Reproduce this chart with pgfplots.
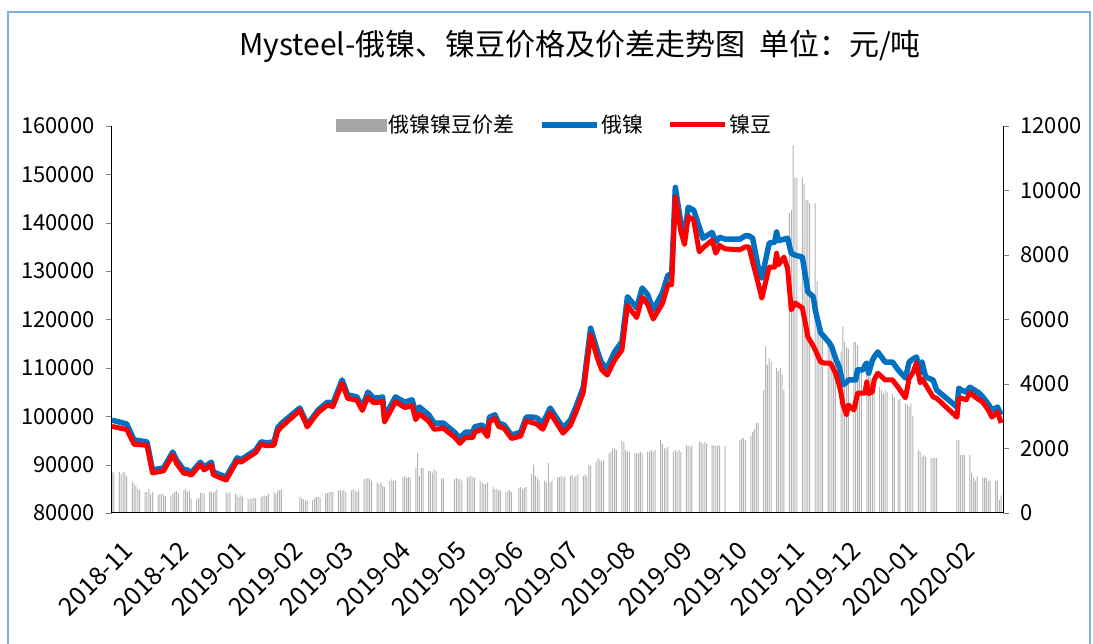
\documentclass[border=0pt]{standalone}
\usepackage{fontspec}
\setmainfont{Noto Sans CJK SC}
\usepackage{pgfplots}
\usepackage{pgfplotstable}
\pgfplotsset{compat=1.18}
\definecolor{nblue}{HTML}{0070C0}
\definecolor{nred}{HTML}{FF0000}
\definecolor{barg}{HTML}{B4B4B4}
\definecolor{legg}{HTML}{A6A6A6}
\definecolor{frameblue}{HTML}{7EB0E0}

% x = days since 2018-11-01; spread in yuan/t (right axis)
\pgfplotstableread{
d s
0 1270
1 1250
4 1270
5 1200
6 1270
7 1250
8 1150
11 960
12 900
13 850
14 750
15 710
18 650
19 650
20 750
21 600
22 650
25 560
26 580
27 600
28 560
29 520
32 540
33 600
34 650
35 680
36 620
39 700
40 750
41 650
42 700
43 450
46 420
47 450
48 620
49 620
50 600
53 650
54 650
55 620
56 680
57 750
62 650
63 600
64 650
67 600
68 550
69 500
70 550
71 500
74 450
75 420
76 450
77 480
78 450
81 500
82 520
83 550
84 520
85 600
88 650
89 600
90 700
91 720
92 720
102 500
103 450
104 420
105 380
106 400
109 400
110 450
111 500
112 500
113 480
116 600
117 620
118 650
119 650
120 650
123 700
124 700
125 680
126 720
127 650
130 700
131 750
132 700
133 650
134 700
137 1050
138 1050
139 1100
140 1050
141 1000
144 950
145 900
146 950
147 850
148 800
151 1000
152 1050
153 1000
154 1000
158 1100
159 1150
160 1100
161 1120
162 1100
165 1400
166 1860
167 1150
168 1400
169 1400
172 1300
173 1300
174 1250
175 1350
176 1300
179 1070
180 1070
186 1050
187 1080
188 1050
189 1050
190 1000
193 1100
194 1120
195 1150
196 1120
197 1100
200 1000
201 950
202 900
203 900
204 950
207 800
208 750
209 750
210 700
211 700
214 650
215 700
216 720
217 650
221 780
222 800
223 750
224 780
225 800
228 1200
229 1500
230 1150
231 1100
232 1000
235 1000
236 950
237 1550
238 950
239 1000
242 1100
243 1120
244 1150
245 1100
246 1120
249 1150
250 1200
251 1100
252 1150
253 1200
256 1150
257 1200
258 1150
259 1500
260 1450
263 1600
264 1700
265 1650
266 1600
267 1650
270 1850
271 1900
272 2000
273 2000
274 1950
277 2250
278 2200
279 1950
280 1900
281 1900
284 1850
285 1850
286 1850
287 1900
288 1850
291 1900
292 1900
293 1950
294 1900
295 1950
298 2260
299 2150
300 2000
301 2000
302 2050
305 1900
306 1950
307 1900
308 1950
309 1900
312 2100
313 2100
314 2050
315 2100
319 2200
320 2200
321 2150
322 2200
323 2150
326 2100
327 2100
328 2080
329 2080
330 2100
333 2080
341 2260
342 2300
343 2320
344 2260
347 2400
348 2500
349 2600
350 2800
351 2800
354 3800
355 5150
356 4600
357 4800
358 4700
361 4500
362 4400
363 4500
364 4300
365 3800
368 9300
369 9400
370 11400
371 10400
372 10400
375 10400
376 10200
377 9700
378 9700
379 9600
382 9600
383 7200
384 5600
385 5500
386 5400
389 5400
390 5400
391 5300
392 4800
393 4600
396 5000
397 5770
398 5300
399 5150
400 5100
403 5300
404 5300
405 5200
406 4500
407 4400
410 4300
411 4300
412 4200
413 4100
414 4100
417 3900
418 3800
419 3700
420 3800
421 3750
424 3700
425 3600
427 3500
428 3550
431 3400
432 3350
433 3300
434 3400
435 3000
438 1950
439 1900
440 1750
441 1800
442 1750
445 1700
446 1700
447 1700
448 1700
459 2260
460 2260
461 1800
462 1800
463 1800
466 1800
467 1250
468 1100
469 1000
470 1150
473 1100
474 1100
475 1100
476 1000
477 1000
480 1000
481 1000
482 400
483 550
}\spread

% prices in yuan/t: ru = Russian nickel, dou = nickel beans
\pgfplotstableread{
d ru dou
0 99200 97900
6 98600 97400
8 98400 97300
12 95100 94200
19 94700 94000
22 88900 88300
28 89300 88700
33 92600 92000
35 91000 90300
39 88900 88200
41 88900 88200
43 88300 87800
48 90500 90000
50 89500 88900
54 90500 89900
55 88500 87900
62 87400 86800
68 91400 90800
70 91000 90500
78 93000 92500
81 94700 94200
84 94500 93900
88 94700 94000
90 97600 96900
92 98500 97800
102 101700 101200
105 99200 98800
106 98200 97800
112 101300 100800
117 102900 102300
120 102700 102000
125 107500 106800
128 104400 103700
133 104000 103300
136 101900 101200
139 105000 104000
142 103800 102800
145 103800 102900
147 104000 103100
148 99800 98800
154 104000 103000
159 102900 101800
163 103400 102200
165 100700 99300
167 101900 100500
172 100300 99000
175 98600 97300
180 98600 97500
186 96700 95700
189 95500 94400
192 96700 95600
196 96700 95600
197 97800 96700
201 98200 97300
204 96700 95800
205 99800 98900
208 100300 99500
210 98600 97900
213 98200 97500
217 96100 95400
222 96700 95900
225 99800 99000
229 99800 98600
231 99600 98300
234 98500 97300
238 101700 100700
245 97600 96500
249 99200 98100
252 101900 100800
256 106000 104900
260 118200 116800
264 113100 111600
266 111000 109600
269 110000 108500
273 113300 111600
277 115400 113700
280 124700 122900
285 122400 120400
288 126500 124600
291 125100 123100
294 122000 120100
299 125500 123300
302 129200 127200
304 129200 127200
306 147300 145300
309 140000 138200
311 137200 135500
313 143200 141300
316 142600 140500
319 139100 134000
321 136800 134800
326 138000 136400
328 136000 133700
330 137000 135300
333 136600 134600
341 136600 134400
344 137300 135000
346 137300 135000
348 136800 131900
351 130850 127500
353 128600 124400
357 135800 130850
360 136000 130850
361 138100 133700
362 136300 131300
365 136600 132900
367 136800 130500
369 133700 122000
371 133300 123400
375 132900 122400
377 128200 118500
378 125700 116400
381 124650 114500
382 122000 113700
385 117200 111200
387 116400 111000
390 115000 111000
391 114300 110500
393 112000 108900
395 110200 106500
396 108500 104800
397 106500 102500
399 107000 100300
400 107500 102300
403 107500 101300
404 107500 103000
405 109600 104800
408 109600 104800
409 110500 104800
410 111000 107100
411 108900 104700
413 111500 105000
414 112250 107500
416 113300 108900
420 111200 107500
424 111200 107500
427 109600 106000
431 107900 103800
433 111200 107800
435 111800 109000
437 112250 111000
439 109000 106900
440 111200 107700
442 108100 106500
446 107500 104000
448 105400 103700
459 101900 99800
460 105800 103600
461 105500 103800
464 105000 103400
466 106000 104800
471 104800 103400
473 104000 102900
476 102500 101300
478 101300 99800
481 101900 100900
483 100300 98600
}\price

\begin{document}
\begin{tikzpicture}[x=1pt,y=1pt]
\path[use as bounding box] (-112,-131) rectangle (981,513);
\draw[frameblue, line width=1.5pt] (-104,-140) -- (-104,501) -- (978,501) -- (978,-140);
\node at (468,467) {\fontsize{30}{34}\selectfont Mysteel-俄镍、镍豆价格及价差走势图\ \ 单位：元/吨};

\pgfplotsset{
  base/.style={
    scale only axis, width=891pt, height=387pt,
    at={(0pt,0pt)}, anchor=south west,
    xmin=0, xmax=484,
    tick label style={font=\fontsize{22}{24}\selectfont},
    scaled y ticks=false,
    /pgf/number format/.cd, fixed, precision=0, set thousands separator={}, assume math mode=true,
  },
}

\begin{axis}[base,
  axis x line=none, axis y line*=right,
  ymin=0, ymax=12000, ytick={0,2000,...,12000},
  tick align=outside, major tick length=6pt,
  yticklabel style={xshift=8pt},
  axis line style={line width=1pt},
]
\addplot[ybar, bar width=1pt, bar shift=0pt, fill=barg, draw=none] table[x=d, y=s] {\spread};
\end{axis}

\begin{axis}[base,
  axis x line*=bottom, axis y line*=left,
  ymin=80000, ymax=160000, ytick={80000,90000,...,160000},
  tick align=outside, major tick length=6pt,
  yticklabel style={xshift=-8pt},
  xtick={0,30,61,92,120,151,181,212,242,273,304,334,365,395,426,457},
  xticklabels={2018-11,2018-12,2019-01,2019-02,2019-03,2019-04,2019-05,2019-06,2019-07,2019-08,2019-09,2019-10,2019-11,2019-12,2020-01,2020-02},
  x tick style={draw=none},
  xticklabel style={rotate=45, anchor=north east, xshift=-4pt, yshift=-18pt, font=\fontsize{25}{27}\selectfont},
  axis line style={line width=1pt},
  legend style={draw=none, fill=none, at={(0.497,1.003)}, anchor=center,
    legend columns=3, font=\fontsize{21}{24}\selectfont,
    /tikz/every even column/.append style={column sep=22pt}},
  legend image code/.code={\draw[#1] (0pt,0pt) -- (55pt,0pt);},
]
\addlegendimage{legend image code/.code={\fill[legg] (0pt,-6pt) rectangle (50pt,6pt);}}
\addlegendentry{俄镍镍豆价差}
\addplot[nblue, line width=5.5pt, line join=round] table[x=d, y=ru] {\price};
\addlegendentry{俄镍}
\addplot[nred, line width=5pt, line join=round] table[x=d, y=dou] {\price};
\addlegendentry{镍豆}
\end{axis}
\end{tikzpicture}
\end{document}
